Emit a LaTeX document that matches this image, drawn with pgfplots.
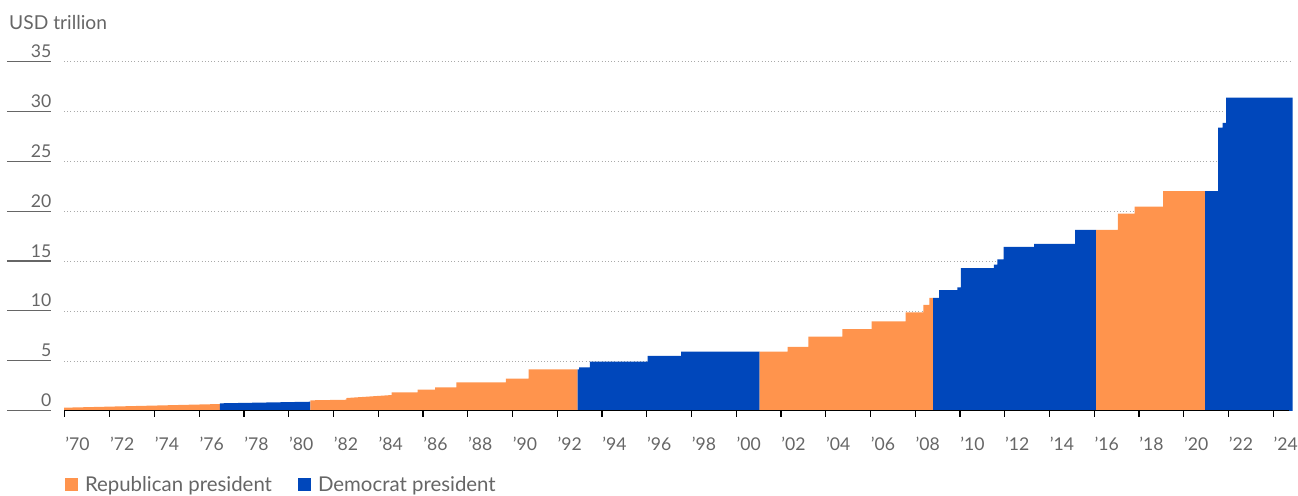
\documentclass[border=0pt]{standalone}
\usepackage{pgfplots}
\pgfplotsset{compat=1.18}
\usepackage{fontspec}
\setmainfont{Lato}

\definecolor{rep}{RGB}{255,148,77}
\definecolor{dem}{RGB}{0,71,187}
\definecolor{txt}{RGB}{102,102,102}
\definecolor{gridc}{RGB}{170,170,170}

\begin{document}
\begin{tikzpicture}
\path[use as bounding box] (0,0) rectangle (649pt,-248pt);
\node[anchor=base west, inner sep=0pt, text=txt,
      font=\fontsize{9.6pt}{11pt}\selectfont] at (4.4pt,-14.6pt) {USD trillion};
\begin{axis}[
  at={(32pt,-205.5pt)}, anchor=south west,
  scale only axis, width=614.25pt, height=174.5pt,
  xmin=1969.96, xmax=2024.86, ymin=0, ymax=35,
  axis lines*=left, axis line style={draw=none},
  tick align=outside, major tick length=3pt,
  xtick style={black, line width=0.6pt},
  ytick style={draw=none},
  xtick={1970,1972,...,2024},
  xticklabels={’70,’72,’74,’76,’78,’80,’82,’84,’86,’88,’90,’92,’94,’96,’98,’00,’02,’04,’06,’08,’10,’12,’14,’16,’18,’20,’22,’24},
  ytick={0,5,...,35},
  /pgf/number format/assume math mode=true,
  ticklabel style={font=\fontsize{8.8pt}{10pt}\selectfont, text=txt},
  xticklabel style={anchor=north west, inner sep=0pt, yshift=-10pt},
  yticklabel={\vbox{\hbox to 22.3pt{\hfil\pgfmathprintnumber{\tick}}\kern1.6pt\hrule height 0.6pt}},
  yticklabel style={anchor=south east, inner sep=0pt, xshift=-3.1pt, yshift=-0.3pt},
  ymajorgrids,
  grid style={draw=gridc, line width=0.5pt, dash pattern=on 0.5pt off 1.1pt},
  legend image code/.code={\fill[#1] (0pt,-3.25pt) rectangle (6.5pt,3.25pt); \path (8pt,0pt);},
  legend columns=2,
  legend style={at={(rel axis cs:0,0)}, anchor=west, yshift=-37pt, xshift=0.3pt,
    draw=none, fill=none, inner sep=0pt,
    font=\fontsize{10.2pt}{12pt}\selectfont, text=txt,
    /tikz/every even column/.append style={column sep=11pt}},
  legend cell align=left,
]
\addlegendimage{fill=rep, draw=none}
\addlegendentry{Republican president}
\addlegendimage{fill=dem, draw=none}
\addlegendentry{Democrat president}

% Nixon / Ford
\addplot[fill=rep, draw=none, forget plot] coordinates {
  (1969.96,0.33) (1976.93,0.70)} \closedcycle;
% Carter
\addplot[fill=dem, draw=none, forget plot] coordinates {
  (1976.93,0.77) (1980.97,0.93)} \closedcycle;
% Reagan / Bush
\addplot[fill=rep, draw=none, forget plot] coordinates {
  (1980.97,1.07) (1982.58,1.13) (1982.58,1.30) (1984.60,1.60)
  (1984.60,1.87) (1985.76,1.87) (1985.76,2.14) (1986.54,2.14)
  (1986.54,2.38) (1987.49,2.38) (1987.49,2.88) (1989.71,2.88)
  (1989.71,3.24) (1990.72,3.24) (1990.72,4.18) (1992.91,4.18)} \closedcycle;
% Clinton
\addplot[fill=dem, draw=none, forget plot] coordinates {
  (1992.91,4.18) (1992.98,4.18) (1992.98,4.38) (1993.46,4.38)
  (1993.46,4.94) (1996.04,4.94) (1996.04,5.54) (1997.54,5.54)
  (1997.54,5.96) (2001.05,5.96)} \closedcycle;
% Bush
\addplot[fill=rep, draw=none, forget plot] coordinates {
  (2001.05,5.95) (2002.30,5.95) (2002.30,6.42) (2003.22,6.42)
  (2003.22,7.45) (2004.74,7.45) (2004.74,8.22) (2006.05,8.22)
  (2006.05,9.00) (2007.57,9.00) (2007.57,9.90) (2008.36,9.90)
  (2008.36,10.65) (2008.63,10.65) (2008.63,11.35) (2008.80,11.35)} \closedcycle;
% Obama
\addplot[fill=dem, draw=none, forget plot] coordinates {
  (2008.80,11.35) (2009.07,11.35) (2009.07,12.12) (2009.88,12.12)
  (2009.88,12.40) (2010.04,12.40) (2010.04,14.32) (2011.52,14.32)
  (2011.52,14.68) (2011.67,14.68) (2011.67,15.20) (2011.95,15.20)
  (2011.95,16.47) (2013.31,16.47) (2013.31,16.77) (2015.15,16.77)
  (2015.15,18.17) (2016.08,18.17)} \closedcycle;
% Trump
\addplot[fill=rep, draw=none, forget plot] coordinates {
  (2016.08,18.17) (2017.06,18.17) (2017.06,19.80) (2017.81,19.80)
  (2017.81,20.50) (2019.08,20.50) (2019.08,22.04) (2020.95,22.04)} \closedcycle;
% Biden
\addplot[fill=dem, draw=none, forget plot] coordinates {
  (2020.95,22.04) (2021.54,22.04) (2021.54,28.43) (2021.74,28.43)
  (2021.74,28.90) (2021.89,28.90) (2021.89,31.43) (2024.86,31.43)} \closedcycle;

% baseline drawn over the filled areas
\draw[black, line width=0.8pt] (rel axis cs:0,0) -- (rel axis cs:0.997,0);
\end{axis}
\end{tikzpicture}
\end{document}
